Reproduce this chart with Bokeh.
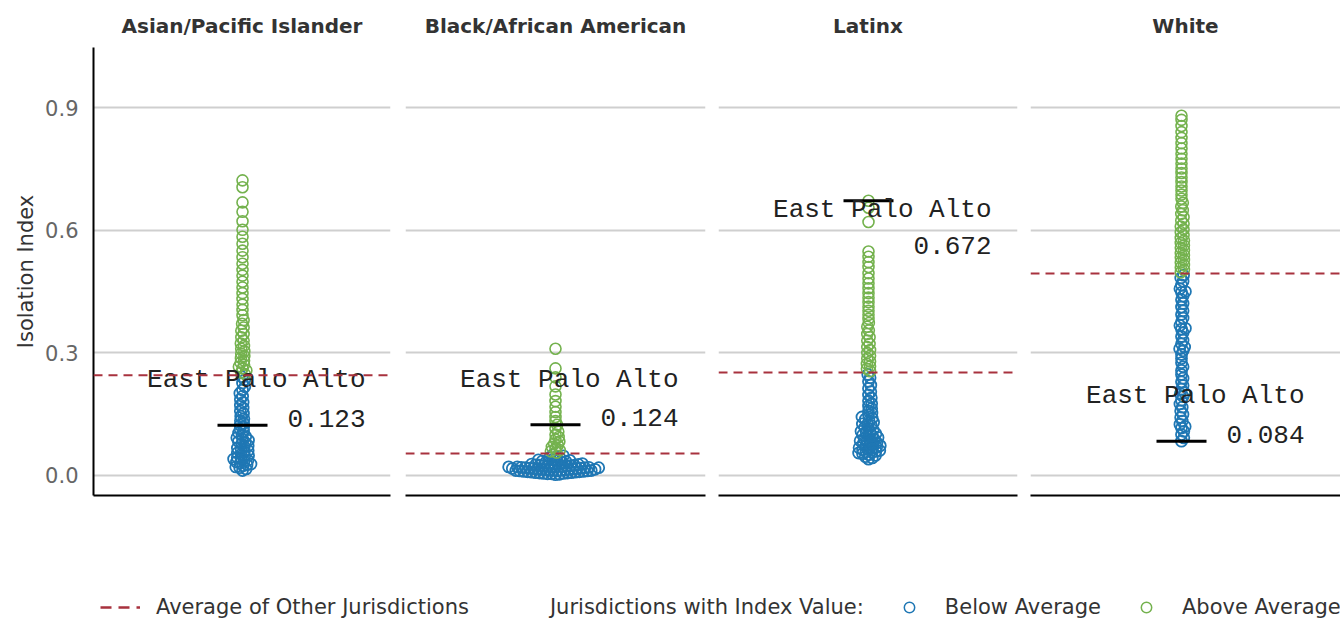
import numpy as np
from bokeh.plotting import figure
from bokeh.models import Range1d, FixedTicker, PrintfTickFormatter, Span, Legend, LegendItem
from bokeh.layouts import row, column
from bokeh.core.properties import value
from bokeh.embed import file_html
from bokeh.resources import INLINE

# ---------------- data ----------------
groups = ["Asian/Pacific Islander", "Black/African American", "Latinx", "White"]
averages = [0.245, 0.054, 0.252, 0.494]
epa_values = [0.123, 0.124, 0.672, 0.084]
epa_name = "East Palo Alto"
y_ticks = [0.0, 0.3, 0.6, 0.9]

asian = [0.012, 0.016, 0.019, 0.021, 0.024, 0.026, 0.028, 0.031, 0.033, 0.035,
         0.037, 0.040, 0.042, 0.044, 0.047, 0.049, 0.052, 0.055, 0.058, 0.061,
         0.064, 0.067, 0.070, 0.073, 0.077, 0.080, 0.083, 0.086, 0.089, 0.092,
         0.095, 0.099, 0.104, 0.108, 0.113, 0.118, 0.123, 0.128, 0.134, 0.139,
         0.145, 0.152, 0.158, 0.165, 0.172, 0.179, 0.186, 0.194, 0.201, 0.209,
         0.217, 0.226, 0.234, 0.241, 0.248, 0.252, 0.257, 0.262, 0.266, 0.271,
         0.276, 0.281, 0.287, 0.292, 0.298, 0.304, 0.310, 0.317, 0.323, 0.330,
         0.338, 0.346, 0.354, 0.362, 0.371, 0.380, 0.392, 0.405, 0.418, 0.432,
         0.446, 0.460, 0.474, 0.489, 0.503, 0.518, 0.534, 0.550, 0.567, 0.584,
         0.601, 0.622, 0.645, 0.668, 0.705, 0.722]

black = [0.002, 0.003, 0.004, 0.004, 0.005, 0.005, 0.006, 0.006, 0.007, 0.007,
         0.008, 0.008, 0.009, 0.009, 0.010, 0.010, 0.011, 0.011, 0.011, 0.012,
         0.012, 0.013, 0.013, 0.013, 0.014, 0.014, 0.015, 0.015, 0.015, 0.016,
         0.016, 0.017, 0.017, 0.017, 0.018, 0.018, 0.019, 0.019, 0.019, 0.020,
         0.020, 0.021, 0.021, 0.021, 0.022, 0.022, 0.023, 0.023, 0.024, 0.024,
         0.025, 0.025, 0.026, 0.027, 0.027, 0.028, 0.029, 0.030, 0.031, 0.032,
         0.033, 0.034, 0.035, 0.036, 0.037, 0.038, 0.040, 0.042, 0.044, 0.046,
         0.048, 0.051, 0.056, 0.059, 0.062, 0.066, 0.070, 0.074, 0.078, 0.083,
         0.088, 0.094, 0.100, 0.107, 0.115, 0.124, 0.133, 0.143, 0.155, 0.168,
         0.182, 0.198, 0.218, 0.240, 0.262, 0.310]

latinx = [0.040, 0.043, 0.046, 0.049, 0.051, 0.053, 0.055, 0.057, 0.058, 0.059,
          0.061, 0.063, 0.065, 0.067, 0.068, 0.069, 0.071, 0.073, 0.075, 0.078,
          0.079, 0.080, 0.083, 0.085, 0.087, 0.088, 0.090, 0.093, 0.096, 0.097,
          0.099, 0.102, 0.105, 0.107, 0.108, 0.111, 0.115, 0.118, 0.122, 0.125,
          0.126, 0.130, 0.134, 0.138, 0.140, 0.143, 0.148, 0.153, 0.158, 0.164,
          0.170, 0.176, 0.183, 0.190, 0.197, 0.205, 0.213, 0.221, 0.230, 0.239,
          0.247, 0.255, 0.261, 0.267, 0.273, 0.279, 0.286, 0.293, 0.300, 0.307,
          0.314, 0.322, 0.330, 0.338, 0.346, 0.355, 0.364, 0.373, 0.383, 0.393,
          0.403, 0.413, 0.424, 0.435, 0.446, 0.458, 0.470, 0.482, 0.495, 0.510,
          0.522, 0.535, 0.548, 0.620, 0.655, 0.672]

white = [0.084, 0.092, 0.100, 0.108, 0.116, 0.120, 0.125, 0.133, 0.142, 0.150,
         0.158, 0.167, 0.175, 0.184, 0.193, 0.200, 0.202, 0.211, 0.220, 0.229,
         0.238, 0.247, 0.257, 0.266, 0.276, 0.286, 0.296, 0.305, 0.310, 0.314,
         0.322, 0.331, 0.340, 0.349, 0.358, 0.360, 0.367, 0.376, 0.385, 0.394,
         0.403, 0.412, 0.421, 0.430, 0.439, 0.448, 0.450, 0.457, 0.466, 0.475,
         0.483, 0.490, 0.497, 0.503, 0.509, 0.515, 0.521, 0.527, 0.533, 0.539,
         0.545, 0.551, 0.557, 0.563, 0.569, 0.575, 0.581, 0.588, 0.595, 0.602,
         0.609, 0.616, 0.624, 0.632, 0.640, 0.649, 0.658, 0.667, 0.677, 0.687,
         0.697, 0.707, 0.718, 0.729, 0.740, 0.751, 0.763, 0.775, 0.787, 0.800,
         0.813, 0.826, 0.840, 0.855, 0.870, 0.880]

series = [asian, black, latinx, white]

# ---------------- style / layout ----------------
BLUE = "#1f77b4"
GREEN = "#74b24e"
RED = "#a8323e"
FONT = "DejaVu Sans"
MONO = "Liberation Mono"
label_below = [False, False, True, False]

# per panel: left border, frame width, right border, px left of centre
BORDER_L = [93, 8, 7, 7]
FRAME_W = [297, 300, 299, 310]
BORDER_R = [7, 6, 6, 0]
HALF_L = [149, 150, 150, 151]
FRAME_H = 448
TOP = 47
BOTTOM = 20
Y0, Y1 = -0.049, 1.047
PX_PER_UNIT = FRAME_H / (Y1 - Y0)
SWARM_D = 4.0


def swarm(vals, px_per_unit, d):
    """simple beeswarm: x offsets (px) so that points keep distance d"""
    vals = np.asarray(vals, dtype=float)
    ys = vals * px_per_unit
    xs = np.zeros(len(vals))
    placed = []
    for i in np.argsort(vals, kind="stable"):
        y = ys[i]
        near = [(xs[j], ys[j]) for j in placed if abs(ys[j] - y) < d]
        cands = [0.0]
        for xj, yj in near:
            dx = np.sqrt(max(d * d - (yj - y) ** 2, 0.0))
            cands += [xj + dx, xj - dx]
        cands.sort(key=abs)
        for c in cands:
            if all((c - xj) ** 2 + (y - yj) ** 2 >= d * d - 1e-6 for xj, yj in near):
                xs[i] = c
                break
        placed.append(i)
    return xs


figs = []
for k, (name, vals, avg, epa) in enumerate(zip(groups, series, averages, epa_values)):
    first = k == 0
    p = figure(width=BORDER_L[k] + FRAME_W[k] + BORDER_R[k], height=TOP + FRAME_H + BOTTOM,
               x_range=Range1d(-HALF_L[k], FRAME_W[k] - HALF_L[k]), y_range=Range1d(Y0, Y1),
               min_border_left=BORDER_L[k], min_border_right=BORDER_R[k],
               min_border_top=TOP, min_border_bottom=BOTTOM,
               output_backend="svg", toolbar_location=None, tools="")
    p.outline_line_color = None
    p.background_fill_color = "white"
    p.border_fill_color = "white"

    p.title.text = name
    p.title.align = "center"
    p.title.text_font = FONT
    p.title.text_font_size = "20px"
    p.title.text_font_style = "bold"
    p.title.text_color = "#333333"
    p.title.standoff = 20

    # x axis: just the black base line
    p.xaxis.ticker = FixedTicker(ticks=[])
    p.xaxis.axis_line_color = "black"
    p.xaxis.axis_line_width = 2
    p.xaxis.major_tick_line_color = None
    p.xaxis.minor_tick_line_color = None
    p.xgrid.visible = False

    p.yaxis.ticker = FixedTicker(ticks=y_ticks)
    p.ygrid.ticker = FixedTicker(ticks=y_ticks)
    p.ygrid.grid_line_color = "#cfcfcf"
    p.ygrid.grid_line_width = 2
    if first:
        ax = p.yaxis[0]
        ax.formatter = PrintfTickFormatter(format="%.1f")
        ax.axis_line_color = "black"
        ax.axis_line_width = 2
        ax.major_tick_line_color = None
        ax.minor_tick_line_color = None
        ax.major_label_text_font = FONT
        ax.major_label_text_font_size = "21px"
        ax.major_label_text_color = "#666666"
        ax.major_label_standoff = 9
        ax.axis_label = "Isolation Index"
        ax.axis_label_text_font = FONT
        ax.axis_label_text_font_size = "21px"
        ax.axis_label_text_font_style = "normal"
        ax.axis_label_text_color = "#333333"
        ax.axis_label_standoff = 4
    else:
        p.yaxis.visible = False

    v = np.asarray(vals, dtype=float)
    xs = swarm(v, PX_PER_UNIT, SWARM_D)
    below = v < avg
    p.scatter(x=xs[below], y=v[below], marker="circle", size=11,
              line_color=BLUE, line_width=1.8, fill_color=None)
    p.scatter(x=xs[~below], y=v[~below], marker="circle", size=11,
              line_color=GREEN, line_width=1.6, fill_color=None)

    p.add_layout(Span(location=avg, dimension="width", line_color=RED,
                      line_dash="9 6", line_width=2))

    p.scatter(x=[0], y=[epa], marker="dash", size=50, line_color="black", line_width=3)
    if label_below[k]:
        off_name, off_val = 9, 45
    else:
        off_name, off_val = -45, -7
    p.text(x=[0], y=[epa], text=[epa_name], x_offset=123, y_offset=off_name,
           text_align="right", text_baseline="middle", text_font=value(MONO),
           text_font_size="26px", text_color="#222222")
    p.text(x=[0], y=[epa], text=[f"{epa:.3f}"], x_offset=123, y_offset=off_val,
           text_align="right", text_baseline="middle", text_font=value(MONO),
           text_font_size="26px", text_color="#222222")
    figs.append(p)

# ---------------- legend strip ----------------
total_w = sum(f.width for f in figs)
pl = figure(width=total_w, height=110, x_range=Range1d(0, 1), y_range=Range1d(0, 1),
            x_axis_type=None, y_axis_type=None, min_border=0,
            output_backend="svg", toolbar_location=None, tools="")
pl.outline_line_color = None
pl.grid.visible = False
nan = [float("nan")]
r_avg = pl.line(x=nan, y=nan, line_color=RED, line_dash="11 7", line_width=2.5)
r_blank = pl.scatter(x=nan, y=nan, marker="circle", size=1, line_alpha=0, fill_alpha=0)
r_below = pl.scatter(x=nan, y=nan, marker="circle", size=10, line_color=BLUE,
                     line_width=1.5, fill_color=None)
r_above = pl.scatter(x=nan, y=nan, marker="circle", size=10, line_color=GREEN,
                     line_width=1.5, fill_color=None)
legend = Legend(items=[
    LegendItem(label="Average of Other Jurisdictions", renderers=[r_avg]),
    LegendItem(label="Jurisdictions with Index Value:", renderers=[r_blank]),
    LegendItem(label="Below Average", renderers=[r_below]),
    LegendItem(label="Above Average", renderers=[r_above]),
], orientation="horizontal", location=(100, 5))
legend.border_line_color = None
legend.background_fill_alpha = 0
legend.label_text_font = FONT
legend.label_text_font_size = "21px"
legend.label_text_color = "#333333"
legend.glyph_width = 40
legend.glyph_height = 26
legend.label_height = 26
legend.label_standoff = 16
legend.spacing = 25
legend.padding = 0
legend.margin = 0
pl.add_layout(legend)

layout = column(row(*figs), pl)
open("out.html", "w").write(file_html(layout, INLINE))
